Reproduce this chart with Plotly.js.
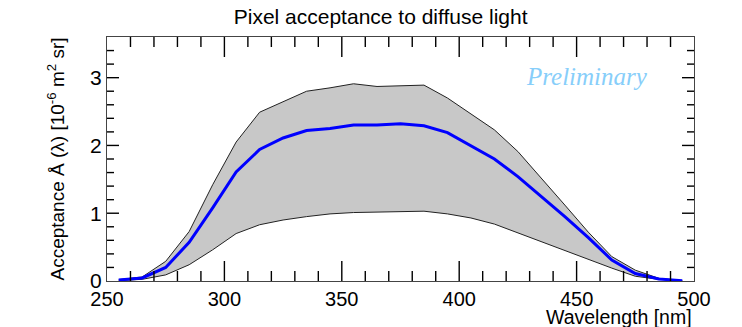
<!DOCTYPE html>
<html>
<head>
<meta charset="utf-8">
<script src="https://cdn.plot.ly/plotly-3.0.1.min.js"></script>
<style>html,body{margin:0;padding:0;background:#fff;}#chart{width:742px;height:327px;}</style>
</head>
<body>
<div id="chart"></div>
<script>
const wavelength = [255,265,275,285,295,305,315,325,335,345,355,365,375,385,395,405,415,425,435,445,455,465,475,485,495];
const acceptance = [0.015,0.045,0.20,0.57,1.08,1.61,1.94,2.11,2.22,2.25,2.30,2.30,2.32,2.29,2.19,2.00,1.80,1.54,1.25,0.95,0.64,0.31,0.11,0.03,0.005];
const upperBand = [0.02,0.06,0.29,0.73,1.42,2.05,2.49,2.65,2.80,2.85,2.91,2.87,2.88,2.89,2.70,2.47,2.23,1.91,1.52,1.12,0.72,0.36,0.16,0.04,0.005];
const lowerBand = [0.005,0.025,0.09,0.24,0.46,0.70,0.83,0.90,0.95,0.99,1.01,1.02,1.025,1.03,0.99,0.93,0.84,0.71,0.58,0.45,0.31,0.19,0.07,0.025,0.003];

const xMajorTicks = [300,350,400,450];
const xMinorTicks = [260,270,280,290,310,320,330,340,360,370,380,390,410,420,430,440,460,470,480,490];
const yMajorTicks = [1,2,3];
const yMinorTicks = [0.2,0.4,0.6,0.8,1.2,1.4,1.6,1.8,2.2,2.4,2.6,2.8,3.2,3.4];

const font = "Liberation Sans, Arial, sans-serif";
const xRange = [250, 500], yRange = [0, 3.6];
const plotW = 742 - 107 - 48, plotH = 327 - 37 - 46;
const yPerPx = (yRange[1] - yRange[0]) / plotH;
const xPerPx = (xRange[1] - xRange[0]) / plotW;

// tick marks drawn as line traces through the axis scales
const tx = [], ty = [];
function xTick(v, len) {
  const d = len * yPerPx;
  tx.push(v, v, null, v, v, null);
  ty.push(yRange[0], yRange[0] + d, null, yRange[1], yRange[1] - d, null);
}
function yTick(v, len) {
  const d = len * xPerPx;
  tx.push(xRange[0], xRange[0] + d, null, xRange[1], xRange[1] - d, null);
  ty.push(v, v, null, v, v, null);
}
xMajorTicks.forEach(v => xTick(v, 20));
xMinorTicks.forEach(v => xTick(v, 10));
yMajorTicks.forEach(v => yTick(v, 12));
yMinorTicks.forEach(v => yTick(v, 7));

const traces = [
  {x: wavelength, y: lowerBand, mode: 'lines', line: {color: '#222', width: 1}, hoverinfo: 'skip', showlegend: false},
  {x: wavelength, y: upperBand, mode: 'lines', fill: 'tonexty', fillcolor: '#c8c8c8', line: {color: '#222', width: 1}, showlegend: false},
  {x: wavelength, y: acceptance, mode: 'lines', line: {color: '#0000ff', width: 3}, showlegend: false},
  {x: tx, y: ty, mode: 'lines', connectgaps: false, line: {color: '#000', width: 1.4}, hoverinfo: 'skip', showlegend: false, cliponaxis: false}
];

const layout = {
  width: 742, height: 327,
  margin: {l: 107, r: 48, t: 37, b: 46},
  paper_bgcolor: '#fff', plot_bgcolor: '#fff',
  font: {family: font, color: '#000', size: 19},
  title: {text: 'Pixel acceptance to diffuse light', x: 0.513, xanchor: 'center', y: 0.948, yanchor: 'middle', font: {size: 21, family: font}},
  xaxis: {
    range: xRange, dtick: 50, ticks: '',
    showline: true, linecolor: '#444', linewidth: 1, mirror: true, showgrid: false, zeroline: false,
    layer: 'above traces',
    tickfont: {size: 20, family: font}
  },
  yaxis: {
    range: yRange, dtick: 1, ticks: '',
    showline: true, linecolor: '#444', linewidth: 1, mirror: true, showgrid: false, zeroline: false,
    layer: 'above traces',
    tickfont: {size: 21, family: font},
    title: {text: 'Acceptance Å (λ) [10<sup>-6</sup> m<sup>2</sup> sr]', font: {size: 19, family: font}, standoff: 20}
  },
  annotations: [
    {text: 'Wavelength [nm]', xref: 'paper', yref: 'paper', x: 1, y: -0.199, xanchor: 'right', yanchor: 'bottom', showarrow: false, font: {size: 19.5, family: font}},
    {text: '<i>Preliminary</i>', xref: 'paper', yref: 'paper', x: 0.925, y: 0.84, xanchor: 'right', yanchor: 'middle', showarrow: false, font: {size: 25, family: 'Liberation Serif, Times New Roman, serif', color: '#87cefa'}}
  ]
};
Plotly.newPlot('chart', traces, layout, {displayModeBar: false, staticPlot: true});
</script>
</body>
</html>
